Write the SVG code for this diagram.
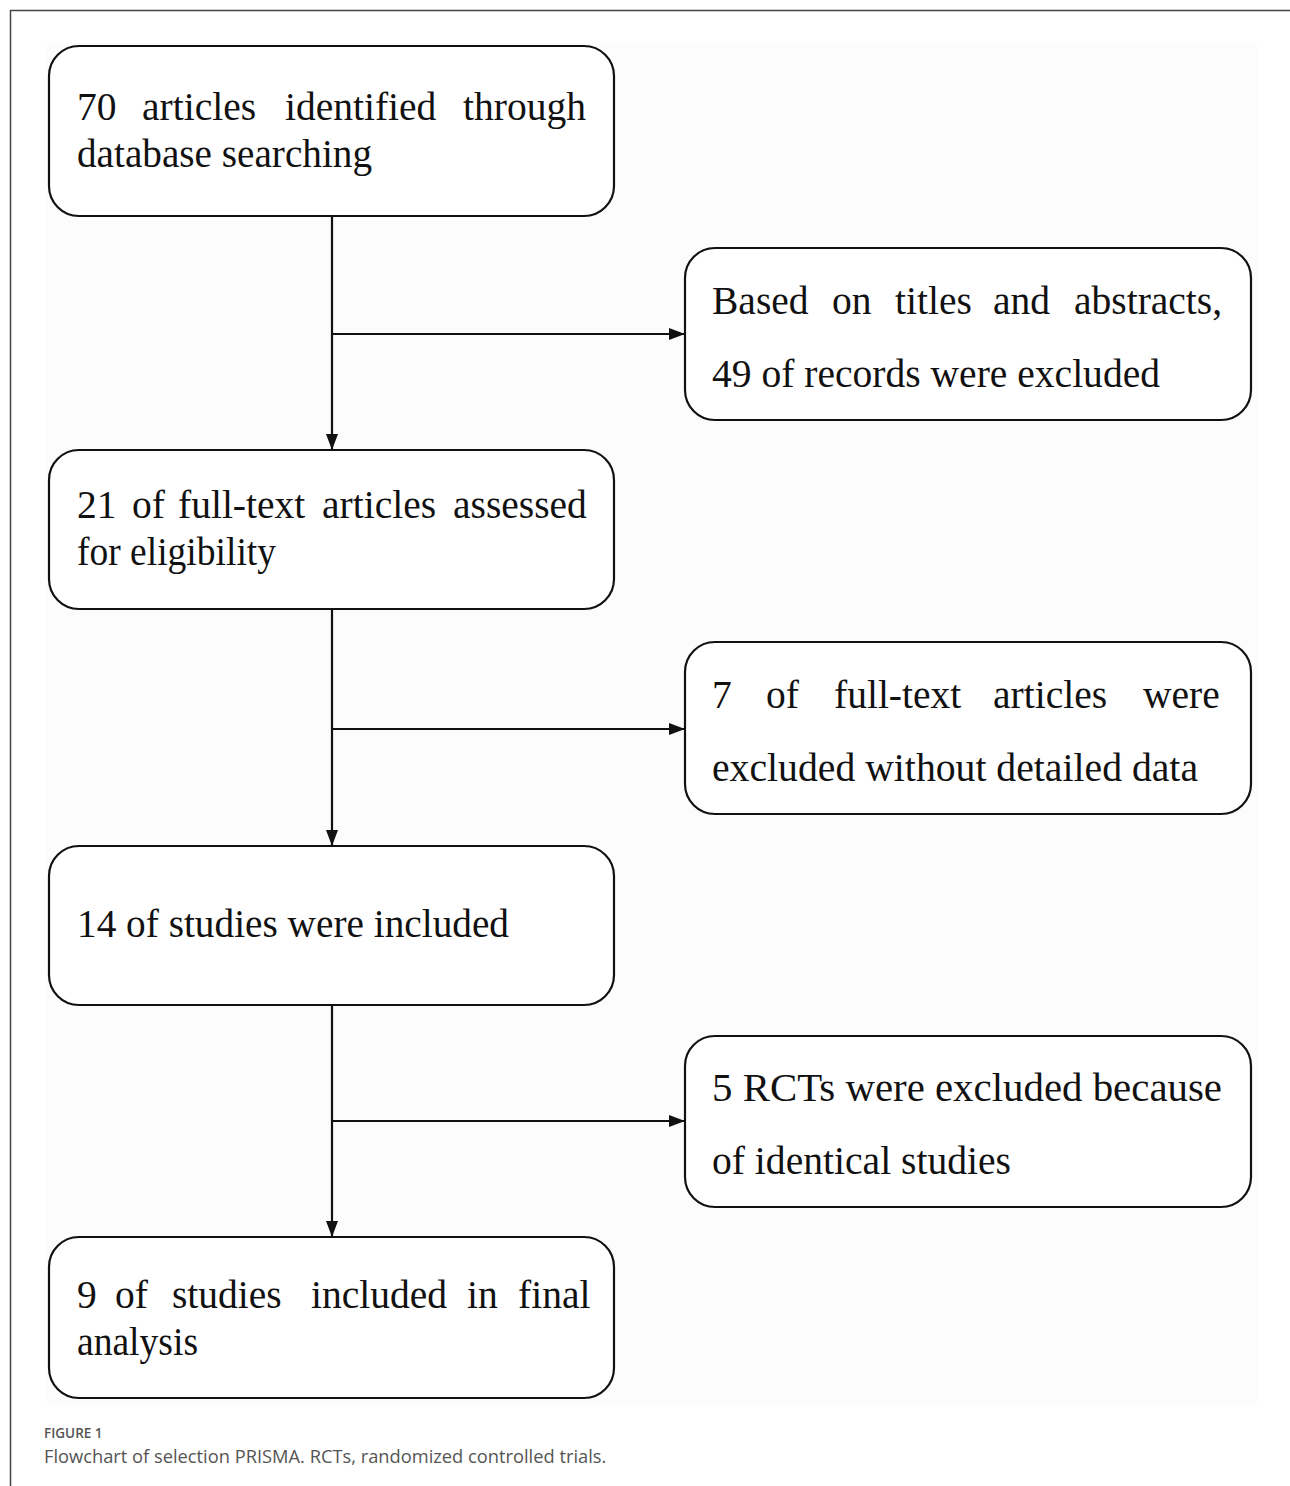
<svg xmlns="http://www.w3.org/2000/svg" width="1290" height="1486" viewBox="0 0 1290 1486">
<style>
.box{fill:#fff;stroke:#111;stroke-width:2.2}
.t{font-family:"Liberation Serif","Times New Roman",serif;font-size:39.5px;fill:#111}
.c{stroke:#111;stroke-width:2.2;fill:none}
.cap1{font-family:"Open Sans",sans-serif;font-size:13.5px;font-weight:600;fill:#555}
.cap2{font-family:"Open Sans",sans-serif;font-size:18.3px;fill:#555}
</style>
<defs>
<marker id="ah" viewBox="0 0 16 12" refX="16" refY="6" markerWidth="16" markerHeight="12" markerUnits="userSpaceOnUse" orient="auto">
<path d="M0,0 L16,6 L0,12 Z" fill="#111"/>
</marker>
</defs>
<rect x="0" y="0" width="1290" height="1486" fill="#fff"/>
<path d="M10,10.5 H1290 M10.5,10 V1486" stroke="#444" stroke-width="1.5" fill="none"/>
<rect x="47" y="43" width="1210" height="1362" fill="#fcfcfc"/>
<g id="connectors">
<path class="c" d="M332,216 V450" marker-end="url(#ah)"/>
<path class="c" d="M332,334 H685" marker-end="url(#ah)"/>
<path class="c" d="M332,609 V846" marker-end="url(#ah)"/>
<path class="c" d="M332,729 H685" marker-end="url(#ah)"/>
<path class="c" d="M332,1005 V1237" marker-end="url(#ah)"/>
<path class="c" d="M332,1121 H685" marker-end="url(#ah)"/>
</g>
<g id="n1">
<rect class="box" x="49" y="46" width="565" height="170" rx="30"/>
<text class="t" y="120"><tspan x="77">70</tspan><tspan x="142">articles</tspan><tspan x="285">identified</tspan><tspan x="463">through</tspan></text>
<text class="t" x="77" y="167" textLength="295" lengthAdjust="spacingAndGlyphs">database searching</text>
</g>
<g id="n2">
<rect class="box" x="685" y="248" width="566" height="172" rx="30"/>
<text class="t" y="314"><tspan x="712">Based</tspan><tspan x="832">on</tspan><tspan x="895">titles</tspan><tspan x="993">and</tspan><tspan x="1074">abstracts,</tspan></text>
<text class="t" x="712" y="387" textLength="448" lengthAdjust="spacingAndGlyphs">49 of records were excluded</text>
</g>
<g id="n3">
<rect class="box" x="49" y="450" width="565" height="159" rx="30"/>
<text class="t" y="518"><tspan x="77">21</tspan><tspan x="132">of</tspan><tspan x="178">full-text</tspan><tspan x="322">articles</tspan><tspan x="453">assessed</tspan></text>
<text class="t" x="77" y="565" textLength="199" lengthAdjust="spacingAndGlyphs">for eligibility</text>
</g>
<g id="n4">
<rect class="box" x="685" y="642" width="566" height="172" rx="30"/>
<text class="t" y="708"><tspan x="712">7</tspan><tspan x="766">of</tspan><tspan x="834">full-text</tspan><tspan x="993">articles</tspan><tspan x="1143">were</tspan></text>
<text class="t" x="712" y="781" textLength="486" lengthAdjust="spacingAndGlyphs">excluded without detailed data</text>
</g>
<g id="n5">
<rect class="box" x="49" y="846" width="565" height="159" rx="30"/>
<text class="t" x="77" y="937" textLength="432" lengthAdjust="spacingAndGlyphs">14 of studies were included</text>
</g>
<g id="n6">
<rect class="box" x="685" y="1036" width="566" height="171" rx="30"/>
<text class="t" x="712" y="1101" textLength="510" lengthAdjust="spacingAndGlyphs">5 RCTs were excluded because</text>
<text class="t" x="712" y="1174" textLength="299" lengthAdjust="spacingAndGlyphs">of identical studies</text>
</g>
<g id="n7">
<rect class="box" x="49" y="1237" width="565" height="161" rx="30"/>
<text class="t" y="1308"><tspan x="77">9</tspan><tspan x="115">of</tspan><tspan x="172">studies</tspan><tspan x="311">included</tspan><tspan x="467">in</tspan><tspan x="518">final</tspan></text>
<text class="t" x="77" y="1355" textLength="121" lengthAdjust="spacingAndGlyphs">analysis</text>
</g>
<text class="cap1" x="44" y="1438">FIGURE 1</text>
<text class="cap2" x="44" y="1463">Flowchart of selection PRISMA. RCTs, randomized controlled trials.</text>
</svg>
